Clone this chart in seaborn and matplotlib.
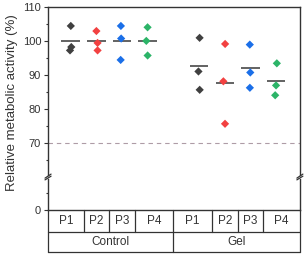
import numpy as np
import pandas as pd
import seaborn as sns
import matplotlib.pyplot as plt
import matplotlib.transforms as mtransforms

# ==========================================================
# data
# ==========================================================
groups = ['Control', 'Gel']
passages = ['P1', 'P2', 'P3', 'P4']

control_p1 = [104.4, 98.2, 97.2]
control_p2 = [102.9, 99.4, 97.2]
control_p3 = [104.4, 100.7, 94.4]
control_p4 = [104.0, 100.0, 95.7]

gel_p1 = [100.9, 91.0, 85.6]
gel_p2 = [99.1, 88.1, 75.6]
gel_p3 = [98.9, 90.7, 86.2]
gel_p4 = [93.4, 86.9, 84.0]

threshold = 70

colors = ['#404040', '#f24141', '#1b6fe8', '#2cb468']

# ==========================================================
# build a long table
# ==========================================================
series = {
    ('Control', 'P1'): control_p1, ('Control', 'P2'): control_p2,
    ('Control', 'P3'): control_p3, ('Control', 'P4'): control_p4,
    ('Gel', 'P1'): gel_p1, ('Gel', 'P2'): gel_p2,
    ('Gel', 'P3'): gel_p3, ('Gel', 'P4'): gel_p4,
}
rows = []
for (g, p), vals in series.items():
    pos = groups.index(g) * 5 + passages.index(p)
    for v in vals:
        rows.append({'group': g, 'passage': p, 'pos': pos, 'value': v})
df = pd.DataFrame(rows)
means = df.groupby('pos')['value'].mean()

# ==========================================================
# figure
# ==========================================================
sns.set_style('ticks')
plt.rcParams['font.family'] = ['Liberation Sans', 'DejaVu Sans']
ink = '#333333'

fig = plt.figure(figsize=(3.06, 2.56), dpi=100)
ax_top = fig.add_axes([0.157, 0.316, 0.823, 0.657])
ax_bot = fig.add_axes([0.157, 0.180, 0.823, 0.121])

np.random.seed(3)
sns.stripplot(data=df, x='pos', y='value', hue='passage', palette=colors,
              native_scale=True, jitter=0.06, marker='D', size=4.2,
              linewidth=0, legend=False, ax=ax_top, zorder=3)
ax_top.hlines(means.values, means.index - 0.36, means.index + 0.36,
              color='#626262', lw=1.4, zorder=2)
ax_top.axhline(threshold, color='#ae9ca6', lw=0.8, ls=(0, (4, 3.5)), zorder=1)

xlim = (-0.88, 8.92)
for ax in (ax_top, ax_bot):
    ax.set_xlim(xlim)
    ax.set_xlabel('')
    ax.set_ylabel('')
    ax.set_xticks([])
    for s in ax.spines.values():
        s.set_color(ink)
        s.set_linewidth(1.0)
    ax.tick_params(axis='y', direction='out', length=3, width=0.8,
                   colors=ink, labelsize=8, pad=2)
    ax.tick_params(axis='y', which='minor', length=1.8, width=0.8, colors=ink)

ax_top.set_ylim(60.5, 110)
ax_top.set_yticks([70, 80, 90, 100, 110])
ax_top.set_yticks([65, 75, 85, 95, 105], minor=True)
ax_top.spines['bottom'].set_visible(False)

ax_bot.set_ylim(0, 9)
ax_bot.set_yticks([0])
ax_bot.set_yticks([5], minor=True)
ax_bot.spines['top'].set_visible(False)

# break marks
d = 0.012
kw = dict(color=ink, lw=0.9, clip_on=False)
for x0 in (0, 1):
    ax_top.plot([x0 - d, x0 + d], [-0.006 - 0.012, -0.006 + 0.012],
                transform=ax_top.transAxes, **kw)
    ax_bot.plot([x0 - d, x0 + d], [1.03 - 0.06, 1.03 + 0.06],
                transform=ax_bot.transAxes, **kw)

fig.text(0.038, 0.598, 'Relative metabolic activity (%)', rotation=90,
         ha='center', va='center', fontsize=9.5, color=ink)

# category table under the plot
trans = mtransforms.blended_transform_factory(ax_bot.transData, ax_bot.transAxes)
row1, row2 = -0.70, -1.35
tkw = dict(color=ink, lw=0.9, clip_on=False, transform=trans)
ax_bot.plot(xlim, [row1, row1], **tkw)
ax_bot.plot(xlim, [row2, row2], **tkw)
ax_bot.plot([xlim[0], xlim[0]], [0, row2], **tkw)
ax_bot.plot([xlim[1], xlim[1]], [0, row2], **tkw)
ax_bot.plot([4, 4], [0, row2], **tkw)
for g in range(len(groups)):
    for i in range(len(passages) - 1):
        b = g * 5 + i + 0.5
        ax_bot.plot([b, b], [0, row1], **tkw)
    for i, p in enumerate(passages):
        x = g * 5 + i
        left = xlim[0] if (g == 0 and i == 0) else (4 if i == 0 else x - 0.5)
        right = xlim[1] if (g == 1 and i == 3) else (4 if i == 3 else x + 0.5)
        ax_bot.text((left + right) / 2, row1 / 2, p, transform=trans,
                    ha='center', va='center', fontsize=8.5, color=ink)
ax_bot.text((xlim[0] + 4) / 2, (row1 + row2) / 2, groups[0], transform=trans,
            ha='center', va='center', fontsize=8.5, color=ink)
ax_bot.text((4 + xlim[1]) / 2, (row1 + row2) / 2, groups[1], transform=trans,
            ha='center', va='center', fontsize=8.5, color=ink)

fig.savefig('out.png', dpi=100)
